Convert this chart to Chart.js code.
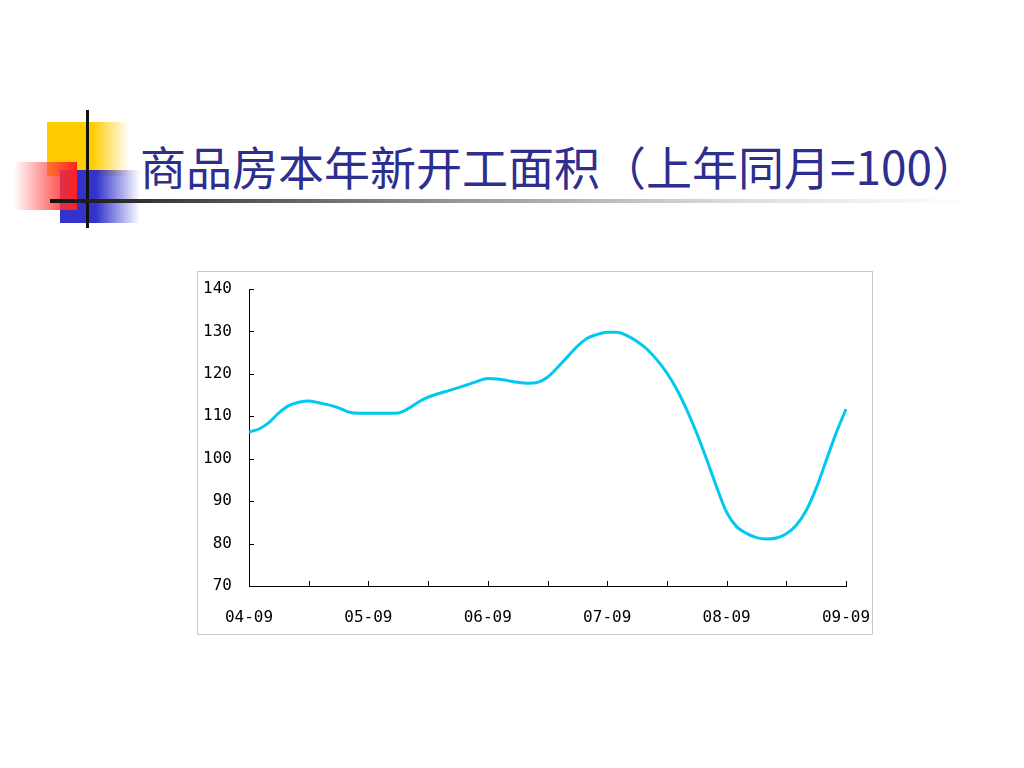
<!DOCTYPE html>
<html>
<head>
<meta charset="utf-8">
<script src="https://cdn.jsdelivr.net/npm/chart.js@4/dist/chart.umd.min.js"></script>
<style>
  html, body { margin:0; padding:0; background:#fff; }
  body { width:1024px; height:768px; position:relative; overflow:hidden; }
  .deco { position:absolute; }
  #title { position:absolute; left:140px; top:135px; font-family:"Noto Sans CJK SC", sans-serif; font-size:46px; line-height:60px; color:#2e2e8f; white-space:nowrap; }
  #box { position:absolute; left:197px; top:271px; width:674px; height:362px; border:1px solid #c8c8c8; background:#fff; }
  #box canvas { position:absolute; left:0; top:0; }
</style>
</head>
<body>
<div class="deco" style="left:47px;top:122px;width:82px;height:54px;background:linear-gradient(to right,#ffcc00 0%,#ffcc00 55%,rgba(255,204,0,0) 100%);"></div>
<div class="deco" style="left:60px;top:170px;width:80px;height:53px;background:linear-gradient(to right,#3333cc 0%,#3333cc 45%,rgba(51,51,204,0) 100%);"></div>
<div class="deco" style="left:14px;top:162px;width:63px;height:48px;background:linear-gradient(to left,#ff2020 0%,rgba(255,80,80,0.6) 55%,rgba(255,255,255,0) 100%);"></div>
<div class="deco" style="left:86px;top:110px;width:3px;height:118px;background:#111;"></div>
<div class="deco" style="left:50px;top:199px;width:920px;height:4px;background:linear-gradient(to right,#111 0%,#444 15%,#999 45%,#ddd 75%,rgba(255,255,255,0) 100%);"></div>
<div id="title">商品房本年新开工面积（上年同月=100）</div>
<div id="box"><canvas id="c" width="674" height="362"></canvas></div>
<script>
const months = [];
const startYear = 4;
for (let i = 0; i <= 60; i++) {
  const y = startYear + Math.floor((i + 8) / 12);
  const m = ((i + 8) % 12) + 1;
  months.push(String(y).padStart(2,'0') + '-' + String(m).padStart(2,'0'));
}
const values = [
  106.3,107.0,108.5,110.8,112.5,113.3,113.6,113.2,112.7,112.0,111.0,110.7,
  110.7,110.7,110.7,110.8,111.8,113.3,114.5,115.3,116.0,116.7,117.5,118.3,
  118.9,118.8,118.4,118.0,117.8,118.0,119.2,121.5,124.0,126.5,128.4,129.3,
  129.8,129.8,129.0,127.6,125.8,123.3,120.2,116.3,111.5,106.0,99.8,93.3,
  87.4,84.0,82.4,81.4,81.1,81.3,82.3,84.3,87.8,93.0,99.5,106.0,111.7
];
const yTicks = [70,80,90,100,110,120,130,140];

const inwardTicks = {
  id:'inwardTicks',
  afterDraw(chart){
    const {ctx, scales:{x,y}} = chart;
    ctx.save();
    ctx.strokeStyle = '#000';
    ctx.lineWidth = 1;
    ctx.beginPath();
    for (let i = 0; i < months.length; i += 6) {
      const px = Math.round(x.getPixelForValue(i)) + 0.5;
      ctx.moveTo(px, y.bottom); ctx.lineTo(px, y.bottom - 5);
    }
    yTicks.forEach(v => {
      const py = Math.round(y.getPixelForValue(v)) + 0.5;
      ctx.moveTo(x.left, py); ctx.lineTo(x.left + 5, py);
    });
    ctx.stroke();
    ctx.restore();
  }
};

new Chart(document.getElementById('c'), {
  type:'line',
  data:{
    labels: months,
    datasets:[{
      data: values,
      borderColor:'#00c8f0',
      borderWidth:3,
      pointRadius:0,
      cubicInterpolationMode:'monotone',
      fill:false
    }]
  },
  options:{
    responsive:false,
    animation:false,
    layout:{ autoPadding:false, padding:{ top:17, right:26, left:0, bottom:0 } },
    plugins:{ legend:{display:false}, tooltip:{enabled:false} },
    scales:{
      x:{
        offset:false,
        grid:{ display:false, drawTicks:false },
        border:{ display:true, color:'#000', width:1 },
        ticks:{
          autoSkip:false, maxRotation:0, minRotation:0, padding:22,
          color:'#000', font:{ family:'"DejaVu Sans Mono", monospace', size:16 },
          callback:(v,i)=> (i % 12 === 0 ? months[i] : '')
        },
        afterFit:(s)=>{ s.height = 48; s.paddingLeft = 0; s.paddingRight = 0; }
      },
      y:{
        min:70, max:140,
        afterBuildTicks:(s)=>{ s.ticks = yTicks.map(v=>({value:v})); },
        grid:{ display:false, drawTicks:false },
        border:{ display:true, color:'#000', width:1 },
        ticks:{ padding:17, color:'#000', font:{ family:'"DejaVu Sans Mono", monospace', size:16 } },
        afterFit:(s)=>{ s.width = 51; s.paddingTop = 0; s.paddingBottom = 0; }
      }
    }
  },
  plugins:[inwardTicks]
});
</script>
</body>
</html>
